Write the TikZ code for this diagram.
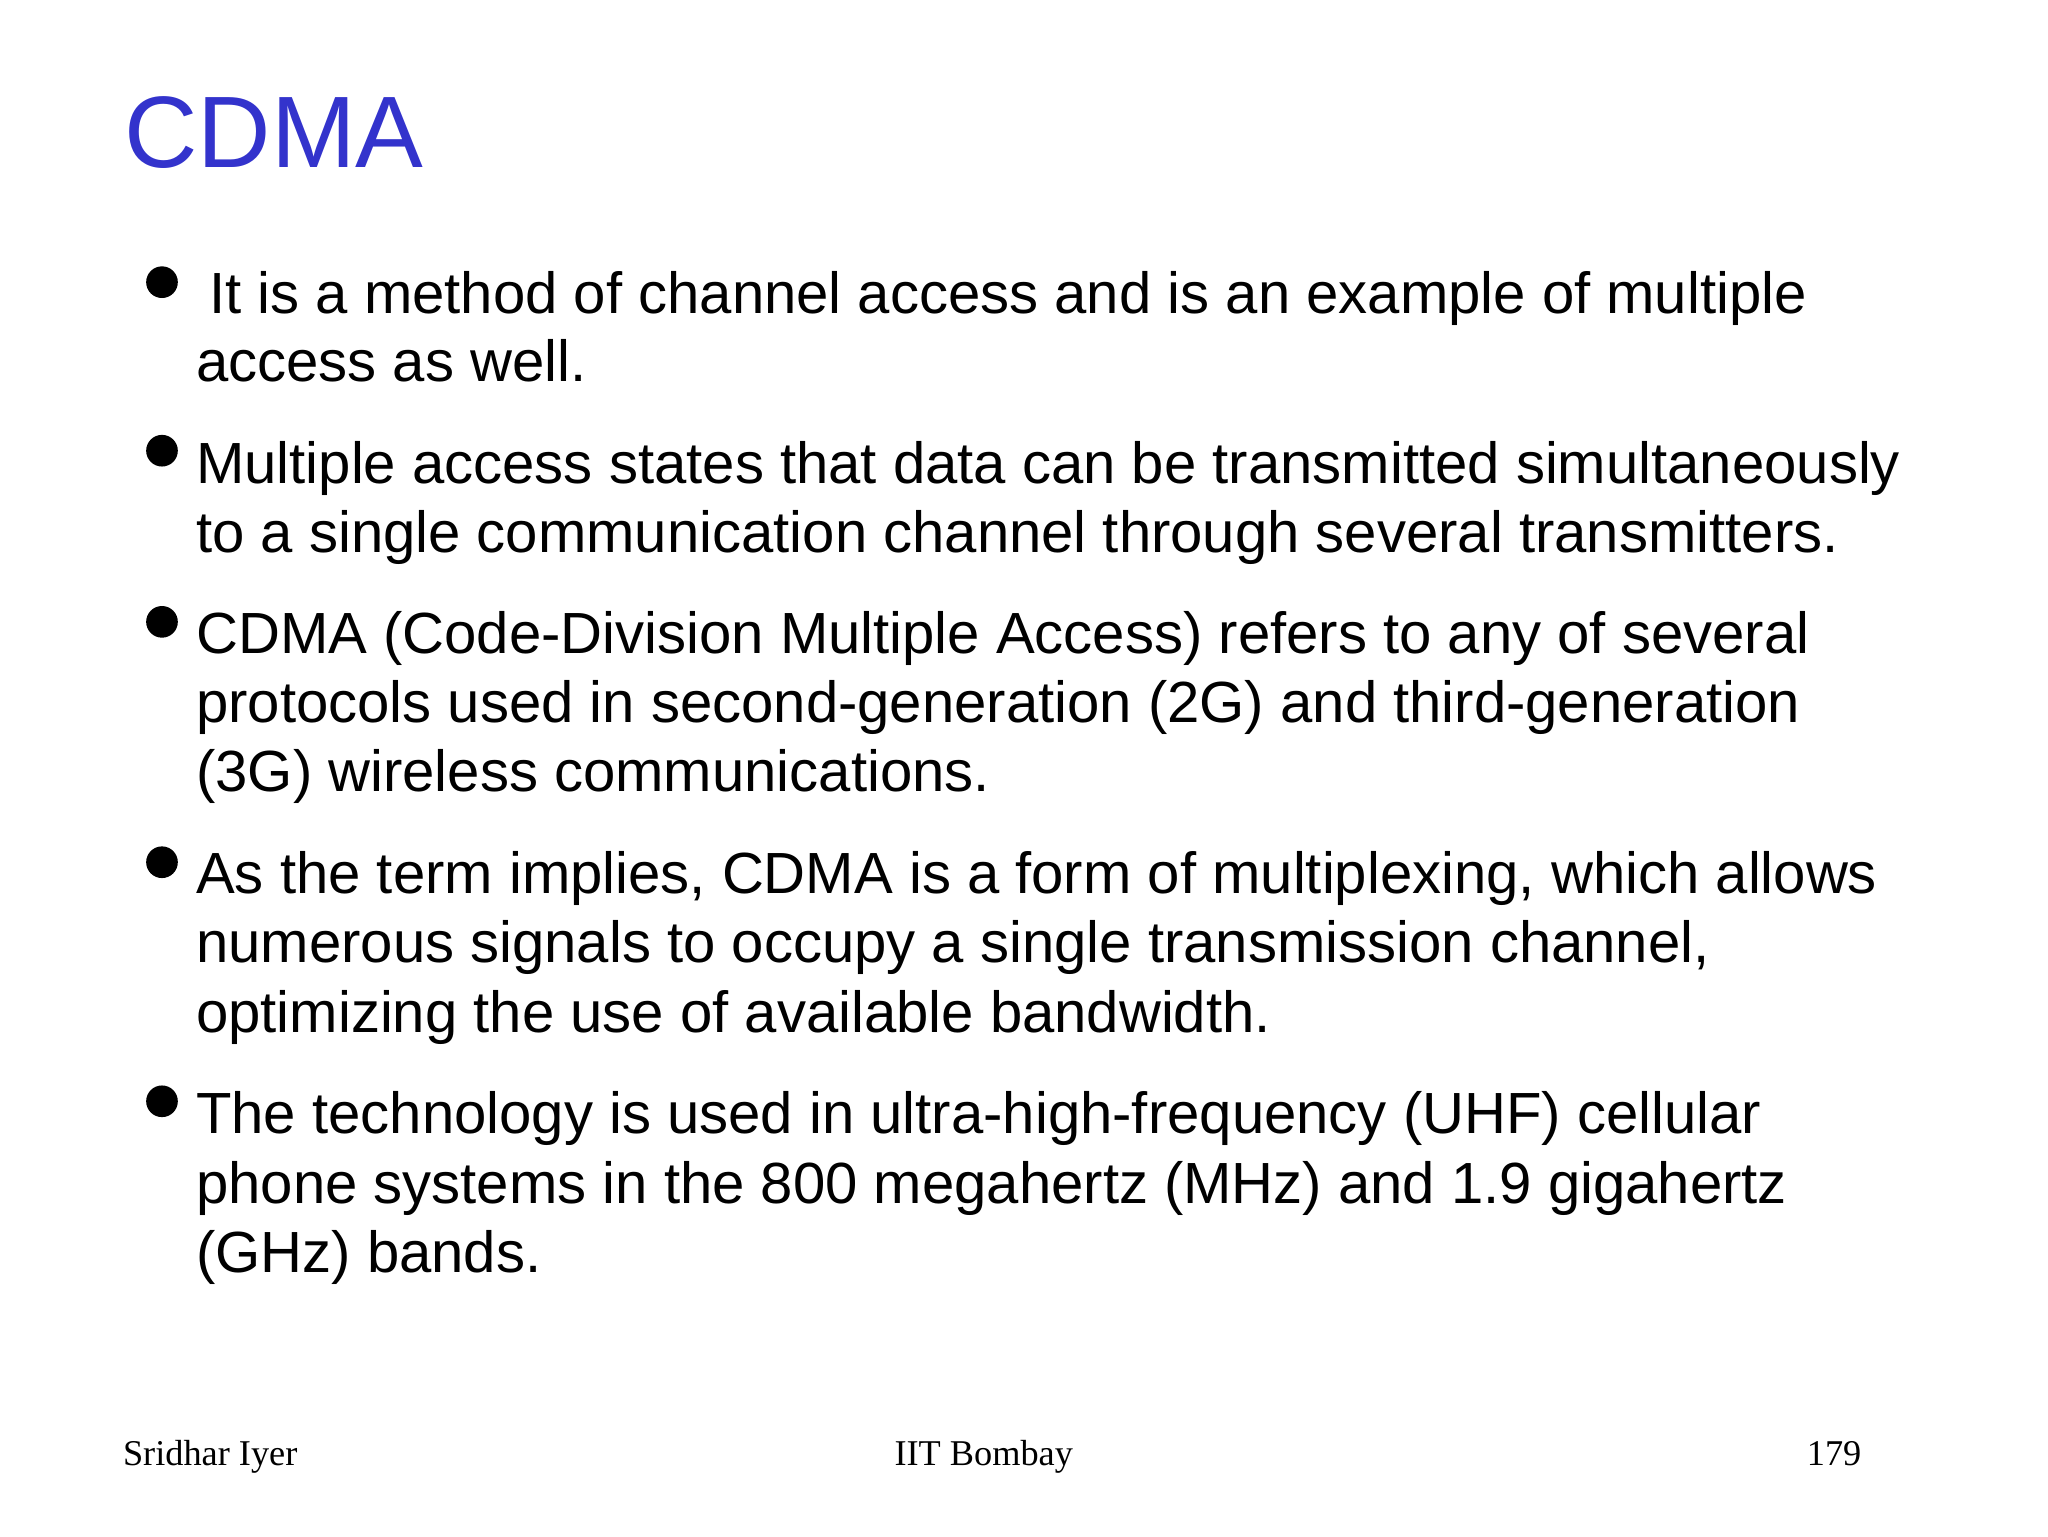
\documentclass[tikz,border=0pt]{standalone}
\usepackage{fontspec}
\setmainfont{Liberation Sans}
\newfontfamily\ftfont{Liberation Serif}
\definecolor{titleblue}{RGB}{51,51,204}
\begin{document}
\begin{tikzpicture}[x=0.99pt,y=-0.99pt,
  body/.style={anchor=base west,inner sep=0pt,font=\fontsize{44}{44}\selectfont},
  dot/.style={circle,fill=black,inner sep=0pt,minimum size=24pt},
  foot/.style={anchor=base,inner sep=0pt,font=\ftfont\fontsize{27.5}{27.5}\selectfont}]
\useasboundingbox (0,0) rectangle (1567.7,1175.8);
\node[anchor=base west,inner sep=0pt,text=titleblue,font=\fontsize{77}{77}\selectfont] (title) at (95,128) {CDMA};
\foreach \n/\y in {b1/216,b2/345,b3/476,b4/660,b5/843} \node[dot] (\n) at (124,\y) {};
\node[body] (l1a) at (160,240) {It is a method of channel access and is an example of multiple};
\node[body] (l1b) at (150,292) {access as well.};
\node[body] (l2a) at (150,370) {Multiple access states that data can be transmitted simultaneously};
\node[body] (l2b) at (150,423) {to a single communication channel through several transmitters.};
\node[body] (l3a) at (150,500) {CDMA (Code-Division Multiple Access) refers to any of several};
\node[body] (l3b) at (150,553) {protocols used in second-generation (2G) and third-generation};
\node[body] (l3c) at (150,606) {(3G) wireless communications.};
\node[body] (l4a) at (150,684) {As the term implies, CDMA is a form of multiplexing, which allows};
\node[body] (l4b) at (150,737) {numerous signals to occupy a single transmission channel,};
\node[body] (l4c) at (150,790) {optimizing the use of available bandwidth.};
\node[body] (l5a) at (150,868) {The technology is used in ultra-high-frequency (UHF) cellular};
\node[body] (l5b) at (150,921) {phone systems in the 800 megahertz (MHz) and 1.9 gigahertz};
\node[body] (l5c) at (150,974) {(GHz) bands.};
\node[foot,anchor=base west] (f1) at (94,1122) {Sridhar Iyer};
\node[foot] (f2) at (753,1122) {IIT Bombay};
\node[foot,anchor=base east] (f3) at (1425,1122) {179};
\end{tikzpicture}
\end{document}
